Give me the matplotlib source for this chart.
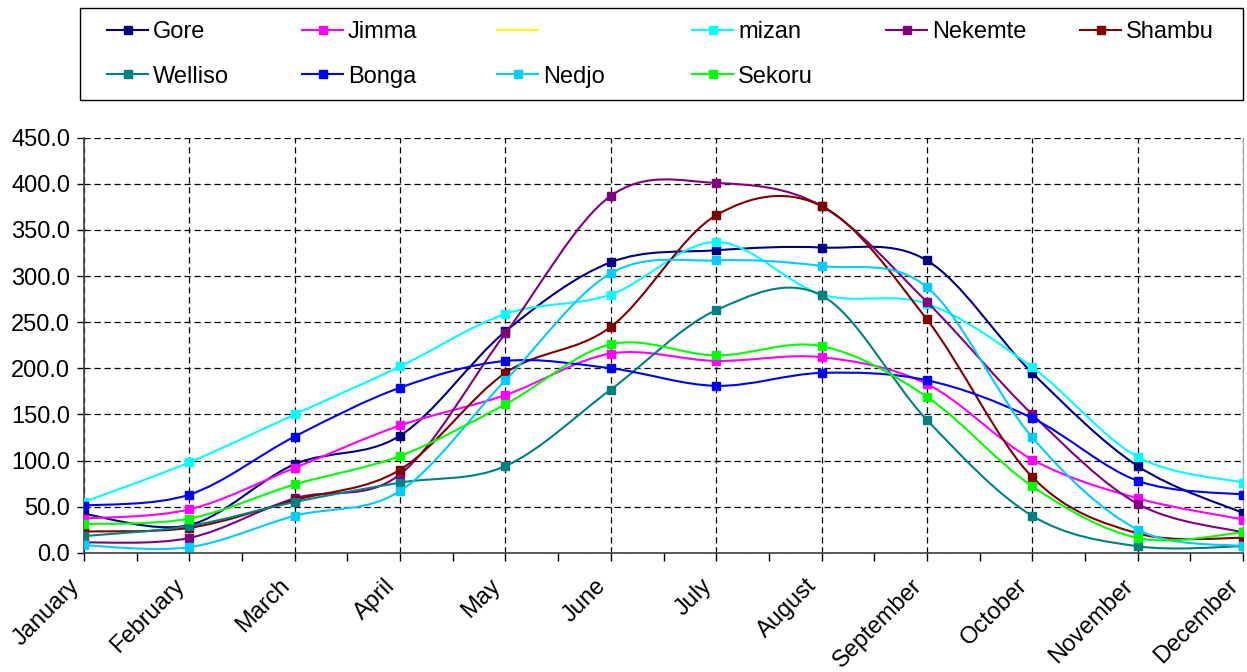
import matplotlib
matplotlib.use("Agg")
import matplotlib.pyplot as plt
from matplotlib.path import Path
from matplotlib.patches import PathPatch, Rectangle
from matplotlib.lines import Line2D
from matplotlib.ticker import MultipleLocator, FormatStrFormatter
from matplotlib.transforms import ScaledTranslation
import numpy as np

plt.rcParams['font.family'] = ['Liberation Sans', 'DejaVu Sans']

months = ['January', 'February', 'March', 'April', 'May', 'June', 'July',
          'August', 'September', 'October', 'November', 'December']

gore = [42, 30, 96, 127, 240, 315, 328, 331, 317, 195, 94, 43]
jimma = [37, 47, 92, 138, 171, 216, 208, 212, 183, 101, 59, 36]
unnamed = []  # yellow series, no values, legend only
mizan = [55, 98, 150, 202, 259, 280, 337, 280, 270, 201, 104, 76]
nekemte = [11, 16, 59, 85, 238, 387, 401, 376, 272, 150, 53, 22]
shambu = [23, 27, 57, 90, 195, 245, 366, 376, 253, 82, 21, 16]
welliso = [18, 29, 55, 76, 94, 177, 263, 279, 144, 40, 7, 7]
bonga = [51, 63, 126, 179, 208, 200, 181, 195, 187, 146, 78, 63]
nedjo = [8, 6, 40, 67, 187, 303, 317, 311, 288, 125, 25, 7]
sekoru = [31, 37, 74, 105, 161, 226, 214, 224, 169, 72, 16, 22]

series = [
    ('Gore', gore, '#000080'),
    ('Jimma', jimma, '#FF00FF'),
    ('', unnamed, '#FFFF00'),
    ('mizan', mizan, '#00FFFF'),
    ('Nekemte', nekemte, '#800080'),
    ('Shambu', shambu, '#800000'),
    ('Welliso', welliso, '#008080'),
    ('Bonga', bonga, '#0000FF'),
    ('Nedjo', nedjo, '#00CCFF'),
    ('Sekoru', sekoru, '#00FF00'),
]

FS = 17


def smooth_path(x, y):
    # excel-like smoothed line: catmull-rom as cubic bezier segments
    pts = np.column_stack([x, y]).astype(float)
    n = len(pts)
    verts = [pts[0]]
    codes = [Path.MOVETO]
    for i in range(n - 1):
        p0 = pts[i - 1] if i > 0 else pts[i]
        p1 = pts[i]
        p2 = pts[i + 1]
        p3 = pts[i + 2] if i + 2 < n else pts[i + 1]
        verts += [p1 + (p2 - p0) / 6.0, p2 - (p3 - p1) / 6.0, p2]
        codes += [Path.CURVE4] * 3
    return Path(verts, codes)


fig = plt.figure(figsize=(12.47, 6.72), dpi=100)
ax = fig.add_axes([84 / 1247, 1 - 552.7 / 672, 1159 / 1247, (552.7 - 137.8) / 672])

x = np.arange(len(months))
handles = []
for k, (name, vals, col) in enumerate(series):
    if len(vals):
        ax.add_patch(PathPatch(smooth_path(x, vals), fill=False, edgecolor=col,
                               lw=1.5, zorder=3 + k))
        ax.plot(x, vals, linestyle='none', marker='s', ms=5.5, color=col,
                mec=col, zorder=3 + k)
        handles.append(Line2D([], [], color=col, lw=1.5, marker='s', ms=5.5))
    else:
        handles.append(Line2D([], [], color=col, lw=1.5))

ax.set_xlim(0, 11)
ax.set_ylim(0, 450)
ax.yaxis.set_major_locator(MultipleLocator(50))
ax.yaxis.set_major_formatter(FormatStrFormatter('%.1f'))
ax.set_xticks(x)
ax.set_xticks(x[:-1] + 0.5, minor=True)
ax.set_xticklabels(months, rotation=45, ha='right', va='center',
                   rotation_mode='anchor')
ax.tick_params(axis='x', which='both', direction='out', length=6, width=1)
ax.tick_params(axis='x', which='major', pad=17, labelsize=FS)
ax.tick_params(axis='y', direction='out', length=5, width=1, pad=5,
               labelsize=FS)
shift = ScaledTranslation(-8 / 100, 2 / 100, fig.dpi_scale_trans)
for lab in ax.get_xticklabels():
    lab.set_transform(lab.get_transform() + shift)

ax.grid(True, axis='both', which='major', color='black', lw=0.9,
        linestyle=(0, (5, 3)))
ax.set_axisbelow(True)
ax.spines['top'].set_visible(False)
ax.spines['right'].set_color('#a0a0a0')
ax.spines['left'].set_color('#404040')
ax.spines['bottom'].set_color('#404040')
ax.spines['left'].set_linewidth(1.2)
ax.spines['bottom'].set_linewidth(1.2)

# legend: box plus one small legend per column, filled row by row
fig.add_artist(Rectangle((80 / 1247, 1 - 100 / 672), 1163 / 1247, 92 / 672,
                         transform=fig.transFigure, fill=False,
                         edgecolor='black', lw=1))
columns = [[0, 6], [1, 7], [2, 8], [3, 9], [4], [5]]
col_x = [107, 302, 497, 692, 886, 1080]
for idx, cx in zip(columns, col_x):
    fig.legend([handles[i] for i in idx], [series[i][0] for i in idx],
               loc='upper left', bbox_to_anchor=(cx / 1247, 1 - 21 / 672),
               frameon=False, fontsize=FS, handlelength=1.75,
               handletextpad=0.2, labelspacing=0.96, borderpad=0,
               borderaxespad=0, numpoints=1)

fig.savefig('out.png', dpi=100)
